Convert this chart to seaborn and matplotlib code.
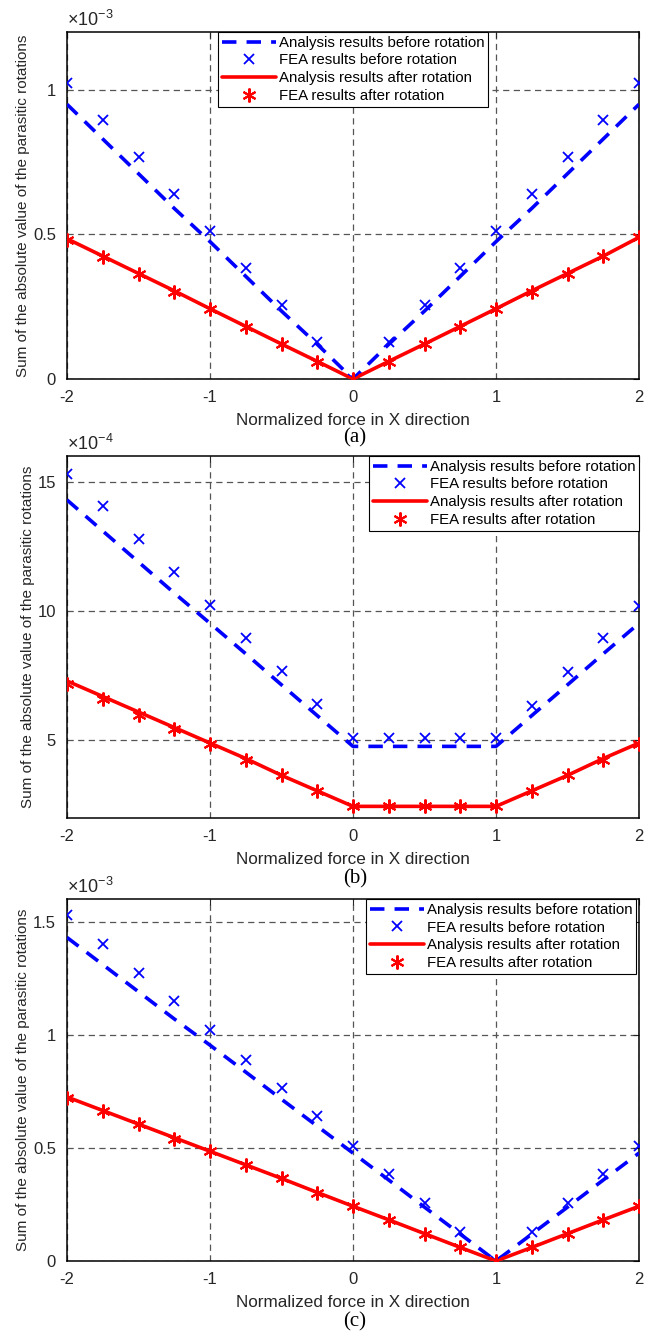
"""
Parasitic rotation vs normalized force, three load cases (a), (b), (c).
"""

import matplotlib
matplotlib.use("Agg")
import matplotlib.pyplot as plt
import seaborn as sns

# ── Data ──────────────────────────────────────────────
force = [-2, -1.75, -1.5, -1.25, -1, -0.75, -0.5, -0.25, 0,
         0.25, 0.5, 0.75, 1, 1.25, 1.5, 1.75, 2]

# (a)  units of 1e-3
ana_before_a = [0.95, 0.83, 0.71, 0.59, 0.475, 0.355, 0.235, 0.12, 0,
                0.12, 0.235, 0.355, 0.475, 0.59, 0.71, 0.83, 0.95]
fea_before_a = [1.025, 0.897, 0.769, 0.641, 0.512, 0.384, 0.256, 0.128, 0,
                0.128, 0.256, 0.384, 0.512, 0.641, 0.769, 0.897, 1.025]
ana_after_a = [0.485, 0.425, 0.365, 0.305, 0.243, 0.182, 0.121, 0.061, 0,
               0.061, 0.121, 0.182, 0.243, 0.305, 0.365, 0.425, 0.49]
fea_after_a = [0.482, 0.422, 0.362, 0.302, 0.241, 0.181, 0.121, 0.06, 0,
               0.06, 0.121, 0.181, 0.241, 0.302, 0.362, 0.425, 0.49]

# (b)  units of 1e-4
ana_before_b = [14.3, 13.1, 11.9, 10.7, 9.53, 8.35, 7.15, 5.96, 4.77,
                4.77, 4.77, 4.77, 4.77, 5.96, 7.15, 8.35, 9.53]
fea_before_b = [15.3, 14.05, 12.8, 11.5, 10.25, 8.95, 7.7, 6.4, 5.1,
                5.1, 5.1, 5.1, 5.1, 6.35, 7.65, 8.95, 10.2]
ana_after_b = [7.3, 6.7, 6.1, 5.5, 4.9, 4.3, 3.65, 3.05, 2.45,
               2.45, 2.45, 2.45, 2.45, 3.05, 3.65, 4.3, 4.9]
fea_after_b = [7.2, 6.6, 6.0, 5.45, 4.85, 4.25, 3.65, 3.05, 2.45,
               2.45, 2.45, 2.45, 2.45, 3.05, 3.65, 4.25, 4.85]

# (c)  units of 1e-3
ana_before_c = [1.43, 1.31, 1.19, 1.07, 0.954, 0.835, 0.715, 0.596, 0.477,
                0.358, 0.238, 0.119, 0, 0.119, 0.238, 0.358, 0.477]
fea_before_c = [1.53, 1.40, 1.275, 1.15, 1.02, 0.89, 0.765, 0.64, 0.51,
                0.385, 0.255, 0.128, 0, 0.128, 0.255, 0.385, 0.51]
ana_after_c = [0.725, 0.665, 0.605, 0.545, 0.485, 0.425, 0.365, 0.303, 0.242,
               0.182, 0.121, 0.06, 0, 0.06, 0.121, 0.182, 0.242]
fea_after_c = [0.72, 0.665, 0.605, 0.54, 0.485, 0.425, 0.365, 0.3, 0.242,
               0.182, 0.121, 0.06, 0, 0.06, 0.121, 0.182, 0.242]

x_ticks = [-2, -1, 0, 1, 2]
y_ticks_a = [0, 0.5, 1]
y_ticks_b = [5, 10, 15]
y_ticks_c = [0, 0.5, 1, 1.5]

labels = ["Analysis results before rotation", "FEA results before rotation",
          "Analysis results after rotation", "FEA results after rotation"]
captions = ["(a)", "(b)", "(c)"]
exponents = [r"$\times 10^{-3}$", r"$\times 10^{-4}$", r"$\times 10^{-3}$"]

# ── Style ─────────────────────────────────────────────
sns.set_style("white")
plt.rcParams["font.family"] = ["Liberation Sans", "DejaVu Sans"]
plt.rcParams["mathtext.fontset"] = "custom"
plt.rcParams["mathtext.rm"] = "Liberation Sans"
TXT = "#262626"

W, H = 645, 1336
AX_W = 572
fig = plt.figure(figsize=(W / 100, H / 100), dpi=100)

# left, top, bottom in pixels
panels = [
    (67, 32, 379, (0, 1.2), y_ticks_a,
     (ana_before_a, fea_before_a, ana_after_a, fea_after_a), "upper center", (0.5, 1.0)),
    (67, 456, 818, (2, 16), y_ticks_b,
     (ana_before_b, fea_before_b, ana_after_b, fea_after_b), "upper right", (1.0, 1.0)),
    (67, 899, 1261, (0, 1.6), y_ticks_c,
     (ana_before_c, fea_before_c, ana_after_c, fea_after_c), "upper right", (0.995, 1.0)),
]
caption_y = [438, 879, 1322]

for i, (lx, top, bot, ylim, yt, series, loc, anchor) in enumerate(panels):
    ax = fig.add_axes([lx / W, 1 - bot / H, AX_W / W, (bot - top) / H])
    ana_b, fea_b, ana_a, fea_a = series

    sns.lineplot(x=force, y=ana_b, color="blue", lw=2.6,
                 linestyle=(0, (4.0, 2.8)), label=labels[0], ax=ax, zorder=3)
    sns.lineplot(x=force, y=fea_b, color="blue", linestyle="", marker="x",
                 markersize=7.5, mew=1.3, mec="blue", mfc="blue",
                 label=labels[1], ax=ax, zorder=4)
    sns.lineplot(x=force, y=ana_a, color="red", lw=2.6,
                 label=labels[2], ax=ax, zorder=3)
    sns.lineplot(x=force, y=fea_a, color="red", linestyle="", marker=(6, 2, 0),
                 markersize=10, mew=1.5, mec="red", mfc="red",
                 label=labels[3], ax=ax, zorder=4)

    ax.set_xlim(-2, 2)
    ax.set_ylim(*ylim)
    ax.set_xticks(x_ticks)
    ax.set_yticks(yt)
    ax.set_xticklabels([f"{t:g}" for t in x_ticks])
    ax.set_yticklabels([f"{t:g}" for t in yt])
    ax.tick_params(direction="in", top=True, right=True, length=4,
                   labelsize=12, colors=TXT, pad=8, width=0.8)
    ax.grid(True, color="#555555", linestyle=(0, (5, 3.5)), lw=0.9)
    for s in ax.spines.values():
        s.set_color("black")
        s.set_linewidth(1.1)

    ax.set_xlabel("Normalized force in X direction", fontsize=12.3, color=TXT, labelpad=6)
    ax.set_ylabel("Sum of the absolute value of the parasitic rotations",
                  fontsize=11.0, color=TXT, labelpad=2)
    ax.text(0.0, 1.005, exponents[i], transform=ax.transAxes, ha="left",
            va="bottom", fontsize=13, color=TXT)

    leg = ax.legend(loc=loc, bbox_to_anchor=anchor, fontsize=10.8,
                    handlelength=3.6, handletextpad=0.2, labelspacing=0.25,
                    borderpad=0.25, borderaxespad=0.0, fancybox=False,
                    framealpha=1, edgecolor="black")
    leg.get_frame().set_linewidth(0.8)
    for t in leg.get_texts():
        t.set_color("black")

    fig.text(355 / W, 1 - caption_y[i] / H, captions[i], ha="center",
             va="center", fontsize=15, family=["Liberation Serif", "DejaVu Serif"],
             color="black")

fig.savefig("out.png", dpi=100)
